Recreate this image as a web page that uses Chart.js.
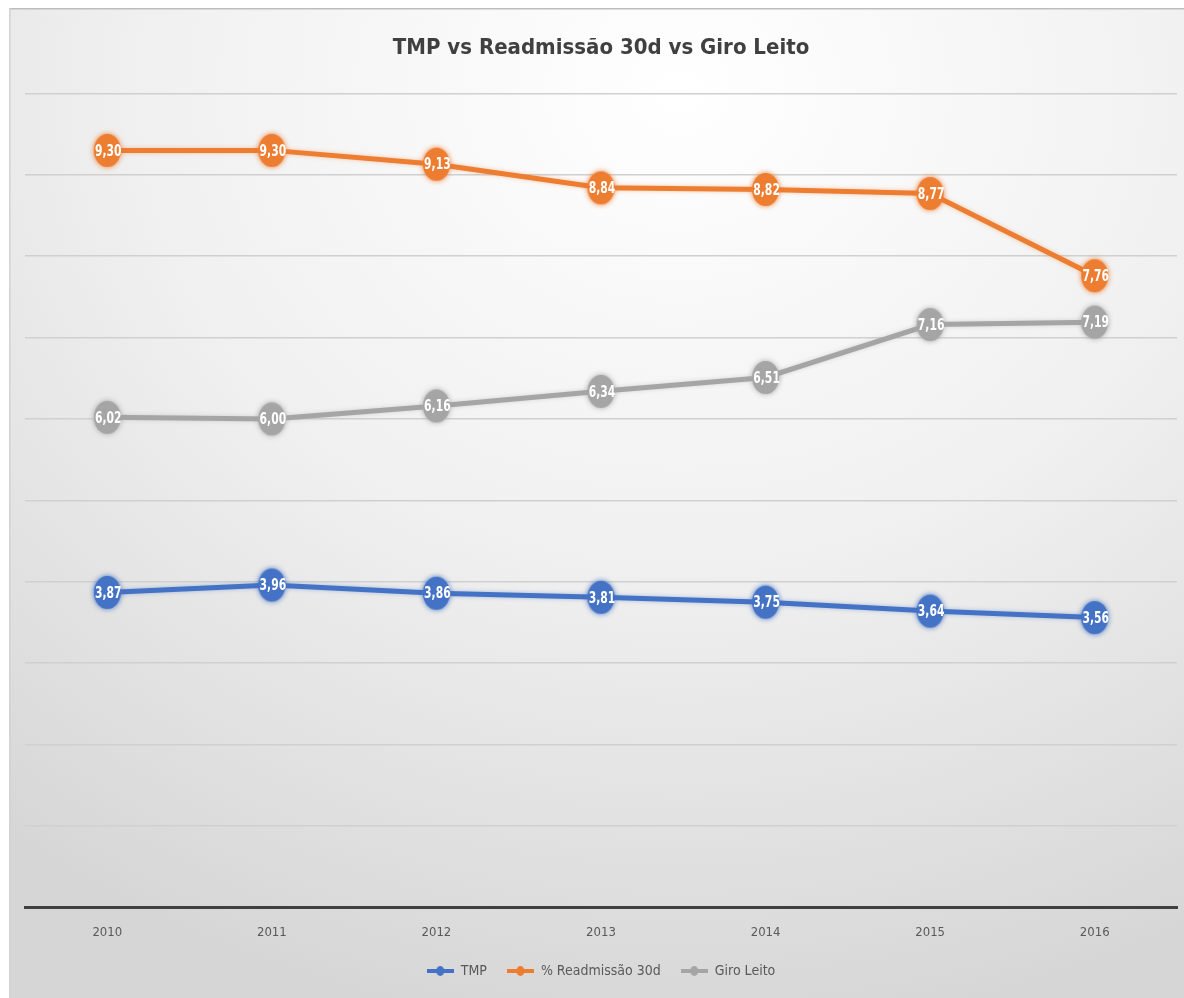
<!DOCTYPE html>
<html lang="pt">
<head>
<meta charset="utf-8">
<title>TMP vs Readmissão 30d vs Giro Leito</title>
<script src="https://cdn.jsdelivr.net/npm/chart.js@4/dist/chart.umd.min.js"></script>
<style>
  html, body { margin: 0; padding: 0; background: #ffffff; overflow: hidden; }
  #wrap { position: relative; width: 1184px; height: 998px; }
  canvas { display: block; }
</style>
</head>
<body>
<div id="wrap"><canvas id="chart" width="1184" height="998"></canvas></div>
<script>
// Anos
const years = ['2010', '2011', '2012', '2013', '2014', '2015', '2016'];

// Séries
const tmp = [3.87, 3.96, 3.86, 3.81, 3.75, 3.64, 3.56];
const readmissao30d = [9.30, 9.30, 9.13, 8.84, 8.82, 8.77, 7.76];
const giroLeito = [6.02, 6.00, 6.16, 6.34, 6.51, 7.16, 7.19];

const seriesNames = ['TMP', '% Readmissão 30d', 'Giro Leito'];
const seriesColors = ['#4472C4', '#ED7D31', '#A5A5A5'];

const narrow = "'Liberation Sans Narrow', 'DejaVu Sans Condensed', 'Liberation Sans', sans-serif";

// Marcador elíptico com leve halo
function makeMarker(color) {
  const c = document.createElement('canvas');
  c.width = 37; c.height = 43;
  const g = c.getContext('2d');
  g.shadowColor = color + '99';
  g.shadowBlur = 5;
  g.fillStyle = color;
  g.beginPath();
  g.ellipse(18.5, 21.5, 13.5, 16.5, 0, 0, Math.PI * 2);
  g.fill();
  return c;
}

// Ícone da legenda: linha com pequeno marcador
function makeLegendIcon(color) {
  const c = document.createElement('canvas');
  c.width = 27; c.height = 10;
  const g = c.getContext('2d');
  g.fillStyle = color;
  g.fillRect(0, 3, 27, 4);
  g.beginPath();
  g.ellipse(13.5, 5, 4, 5, 0, 0, Math.PI * 2);
  g.fill();
  return c;
}

const markers = seriesColors.map(makeMarker);
const legendIcons = seriesColors.map(makeLegendIcon);

// Fundo do painel com gradiente radial
const panelBackground = {
  id: 'panelBackground',
  beforeDraw(chart) {
    const ctx = chart.ctx;
    const W = chart.width, H = chart.height;
    ctx.save();
    ctx.fillStyle = '#ffffff';
    ctx.fillRect(0, 0, W, H);
    const x0 = 9, y0 = 8;
    ctx.save();
    ctx.beginPath();
    ctx.rect(x0, y0, W - x0, H - y0);
    ctx.clip();
    ctx.translate(680, 90);
    ctx.scale(1.15, 1);
    const grad = ctx.createRadialGradient(0, 0, 0, 0, 0, 950);
    grad.addColorStop(0, '#ffffff');
    grad.addColorStop(0.5, '#f0f0f0');
    grad.addColorStop(1, '#d6d6d6');
    ctx.fillStyle = grad;
    ctx.fillRect(-800, -200, 1600, 1300);
    ctx.restore();
    ctx.fillStyle = '#bdbdbd';
    ctx.fillRect(x0, y0, W - x0, 1.5);
    ctx.fillStyle = '#d2d2d2';
    ctx.fillRect(x0, y0, 1.5, H - y0);
    ctx.restore();
  }
};

// Leve halo sob as linhas
const lineGlow = {
  id: 'lineGlow',
  beforeDatasetDraw(chart, args) {
    const ctx = chart.ctx;
    ctx.save();
    ctx.shadowColor = seriesColors[args.index] + '66';
    ctx.shadowBlur = 4;
  },
  afterDatasetDraw(chart) {
    chart.ctx.restore();
  }
};

// Rótulos de valor dentro dos marcadores
const valueLabels = {
  id: 'valueLabels',
  afterDatasetsDraw(chart) {
    const ctx = chart.ctx;
    ctx.save();
    ctx.fillStyle = '#ffffff';
    ctx.textAlign = 'center';
    ctx.textBaseline = 'middle';
    ctx.font = 'bold 15px ' + narrow;
    chart.data.datasets.forEach((ds, di) => {
      const meta = chart.getDatasetMeta(di);
      meta.data.forEach((pt, i) => {
        const txt = ds.data[i].toFixed(2).replace('.', ',');
        ctx.save();
        ctx.translate(pt.x + 1, pt.y + 1);
        ctx.scale(0.8, 1.1);
        ctx.fillText(txt, 0, 0);
        ctx.restore();
      });
    });
    ctx.restore();
  }
};

const seriesData = [tmp, readmissao30d, giroLeito];

new Chart(document.getElementById('chart'), {
  type: 'line',
  data: {
    labels: years,
    datasets: seriesData.map((d, i) => ({
      label: seriesNames[i],
      data: d,
      borderColor: seriesColors[i],
      backgroundColor: seriesColors[i],
      borderWidth: 5,
      pointStyle: markers[i],
      pointRadius: 14,
      pointHoverRadius: 14,
      tension: 0,
      fill: false
    }))
  },
  options: {
    responsive: false,
    animation: false,
    layout: { autoPadding: false, padding: { left: 25, right: 7, top: 0, bottom: 10 } },
    plugins: {
      title: {
        display: true,
        text: 'TMP vs Readmissão 30d vs Giro Leito',
        color: '#404040',
        font: { family: narrow, size: 22, weight: 'bold' },
        padding: { top: 35, bottom: 32 }
      },
      legend: {
        position: 'bottom',
        labels: {
          color: '#595959',
          font: { family: narrow, size: 14 },
          usePointStyle: true,
          pointStyleWidth: 27,
          padding: 20,
          generateLabels(chart) {
            return chart.data.datasets.map((ds, i) => ({
              text: ds.label,
              fillStyle: seriesColors[i],
              strokeStyle: seriesColors[i],
              lineWidth: 0,
              pointStyle: legendIcons[i],
              hidden: false,
              datasetIndex: i,
              fontColor: '#595959'
            }));
          }
        }
      },
      tooltip: { enabled: false }
    },
    scales: {
      x: {
        offset: true,
        grid: { display: false, drawTicks: false },
        border: { display: true, color: '#404040', width: 3 },
        ticks: {
          color: '#595959',
          font: { family: narrow, size: 13 },
          padding: 17
        },
        afterFit(scale) { scale.height -= 13; }
      },
      y: {
        min: 0,
        max: 10,
        ticks: { display: false, stepSize: 1 },
        grid: { color: '#d0d0d0', lineWidth: 1.5, drawTicks: false },
        border: { display: false }
      }
    }
  },
  plugins: [panelBackground, lineGlow, valueLabels]
});
</script>
</body>
</html>
